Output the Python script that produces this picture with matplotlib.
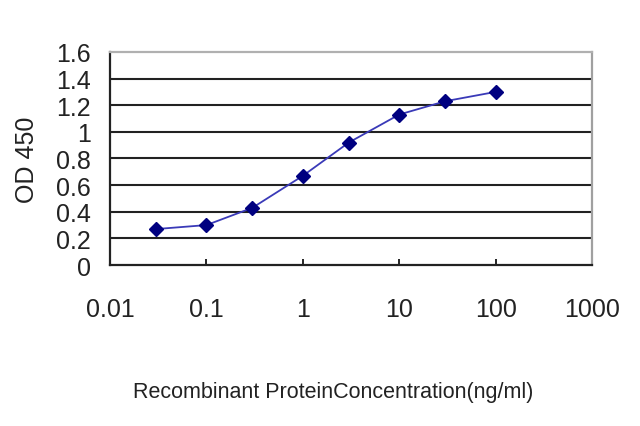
import matplotlib.pyplot as plt

# Concentration (ng/ml) and OD 450 readings
conc = [0.03, 0.1, 0.3, 1, 3, 10, 30, 100]
od450 = [0.27, 0.30, 0.43, 0.67, 0.92, 1.13, 1.23, 1.30]
yticks = [0, 0.2, 0.4, 0.6, 0.8, 1, 1.2, 1.4, 1.6]
ytick_labels = ['0', '0.2', '0.4', '0.6', '0.8', '1', '1.2', '1.4', '1.6']
xticks = [0.01, 0.1, 1, 10, 100, 1000]
xtick_labels = ['0.01', '0.1', '1', '10', '100', '1000']

plt.rcParams['font.family'] = ['Liberation Sans', 'DejaVu Sans']

fig = plt.figure(figsize=(6.4, 4.27), dpi=100)
ax = fig.add_axes([0.172, 0.377, 0.753, 0.499])

ax.plot(conc, od450, '-', color='#3a3ab8', linewidth=1.3)
ax.plot(conc, od450, 'D', color='#000080', markersize=7.5, linestyle='none')

ax.set_xscale('log')
ax.set_xlim(0.01, 1000)
ax.set_ylim(0, 1.6)
ax.set_yticks(yticks)
ax.set_yticklabels(ytick_labels)
ax.set_xticks(xticks)
ax.set_xticklabels(xtick_labels)
ax.minorticks_off()

# horizontal gridlines, dark like the original Excel chart
for v in yticks[1:-1]:
    ax.axhline(v, color='#222222', linewidth=1.5, zorder=0)

ax.spines['top'].set_color('#b0b0b0')
ax.spines['right'].set_color('#a0a0a0')
for s in ['top', 'right', 'left', 'bottom']:
    ax.spines[s].set_linewidth(1.6)
ax.spines['left'].set_color('#222222')
ax.spines['bottom'].set_color('#222222')

ax.tick_params(axis='y', length=0, labelsize=18, pad=14, labelcolor='#222222')
ax.tick_params(axis='x', direction='in', length=4, width=1.2, labelsize=18, pad=23,
               labelcolor='#222222')

ax.set_ylabel('OD 450', fontsize=18, color='#222222')
ax.yaxis.set_label_coords(-0.172, 0.5)
ax.yaxis.label.set_va('center')

ax.set_xlabel('Recombinant ProteinConcentration(ng/ml)', fontsize=15.5, color='#222222')
ax.xaxis.set_label_coords(0.463, -0.592)
ax.xaxis.label.set_va('center')

plt.savefig('out.png', dpi=100)
